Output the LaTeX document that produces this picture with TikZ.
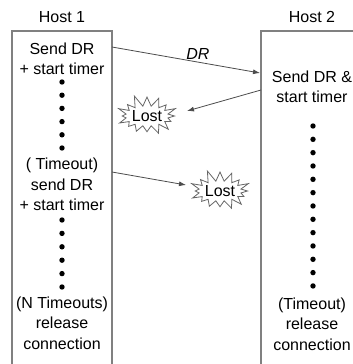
\documentclass[tikz,border=0pt]{standalone}
\usepackage{fontspec}
\setmainfont{Liberation Sans}
\usetikzlibrary{arrows.meta,shapes.symbols}
\begin{document}
\begin{tikzpicture}[x=1pt,y=-1pt,
  txt/.style={font=\fontsize{16}{20.5}\selectfont,align=center,inner sep=0pt},
  hostbox/.style={draw=black!50,line width=1.4pt},
  dotmark/.style={fill=black,circle,inner sep=0pt,minimum size=5.4pt},
  msg/.style={draw=black!70,line width=0.8pt,-{Latex[length=7pt,width=5pt]}},
  lostburst/.style={starburst,draw=black!60,line width=0.8pt,fill=white,
    starburst points=16,starburst point height=12pt,random starburst=11,
    minimum width=66pt,minimum height=44pt,inner sep=0pt,
    font=\fontsize{16}{20}\selectfont}]
\useasboundingbox (0,0) rectangle (353,364);
\clip (0,0) rectangle (353,364);
\fill[white] (0,0) rectangle (353,364);
% host boxes
\draw[hostbox] (12,31) rectangle (112,370);
\draw[hostbox] (261,31) rectangle (362,370);
\node[txt] (h1) at (62,17) {Host 1};
\node[txt] (h2) at (312,17) {Host 2};
% left column
\node[txt] (a1) at (62,59) {Send DR\\+ start timer};
\foreach \i in {0,...,5} \node[dotmark] (ld\i) at (62,{82+13.2*\i}) {};
\node[txt] (a2) at (62,184.5) {( Timeout)\\send DR\\+ start timer};
\foreach \i in {0,...,5} \node[dotmark] (le\i) at (62,{220+13.4*\i}) {};
\node[txt] (a3) at (62,323) {(N Timeouts)\\release\\connection};
% right column
\node[txt] (b1) at (312,87) {Send DR \&\\start timer};
\foreach \i in {0,...,12} \node[dotmark] (rd\i) at (313,{126+13.33*\i}) {};
\node[txt] (b2) at (312,324) {(Timeout)\\release\\connection};
% lost bursts
\node[lostburst] (lost1) at (147,116) {Lost};
\node[lostburst] (lost2) at (220,191) {Lost};
% message endpoints
\coordinate (p1) at (112,47);
\coordinate (q1) at (260,73);
\coordinate (p2) at (261,90);
\coordinate (q2) at (187,111);
\coordinate (p3) at (112,172);
\coordinate (q3) at (186,185);
\draw[msg] (p1) -- node[pos=0.58,above=1pt,font=\fontsize{16}{20}\selectfont\itshape,inner sep=1pt] (dr) {DR} (q1);
\draw[msg] (p2) -- (q2);
\draw[msg] (p3) -- (q3);
\end{tikzpicture}
\end{document}
